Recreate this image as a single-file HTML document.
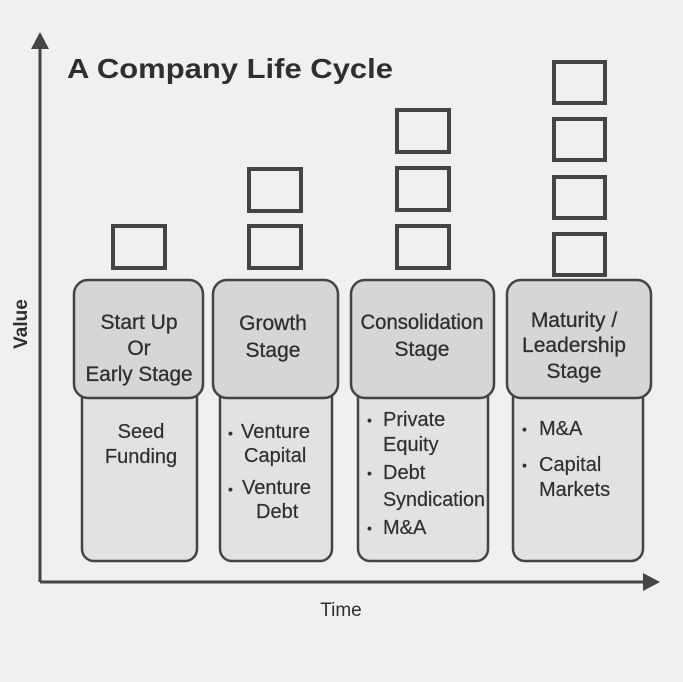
<!DOCTYPE html>
<html><head><meta charset="utf-8"><style>
html,body{margin:0;padding:0;background:#f1f0ee;}
svg{display:block;}
text{font-family:"Liberation Sans",sans-serif;fill:#2f2f2f;}
</style></head><body>
<svg width="683" height="682" viewBox="0 0 683 682" xmlns="http://www.w3.org/2000/svg">
<rect width="683" height="682" fill="#f1f0ee"/>
<line x1="40" y1="582" x2="40" y2="46" stroke="#444" stroke-width="3"/>
<polygon points="40,32 31,49 49,49" fill="#444"/>
<line x1="40" y1="582" x2="645" y2="582" stroke="#444" stroke-width="3"/>
<polygon points="660,582 643,573 643,591" fill="#444"/>
<text x="67" y="78" font-size="28" font-weight="bold" fill="#3a3a3a" textLength="326" lengthAdjust="spacingAndGlyphs">A Company Life Cycle</text>
<text x="341" y="616" font-size="19" text-anchor="middle">Time</text>
<text transform="translate(27,324) rotate(-90)" font-size="19" font-weight="bold" text-anchor="middle">Value</text>
<g fill="none" stroke="#444" stroke-width="4">
<rect x="113" y="226" width="52" height="42"/>
<rect x="249" y="169" width="52" height="42"/>
<rect x="249" y="226" width="52" height="42"/>
<rect x="397" y="110" width="52" height="42"/>
<rect x="397" y="168" width="52" height="42"/>
<rect x="397" y="226" width="52" height="42"/>
<rect x="554" y="62" width="51" height="41"/>
<rect x="554" y="119" width="51" height="41"/>
<rect x="554" y="177" width="51" height="41"/>
<rect x="554" y="234" width="51" height="41"/>
</g>
<g stroke="#444" stroke-width="2.5">
<rect x="82" y="380" width="115" height="181" rx="12" fill="#e3e2e0"/>
<rect x="74" y="280" width="129" height="118" rx="14" fill="#d8d6d4"/>
<rect x="220" y="380" width="112" height="181" rx="12" fill="#e3e2e0"/>
<rect x="213" y="280" width="125" height="118" rx="14" fill="#d8d6d4"/>
<rect x="358" y="380" width="130" height="181" rx="12" fill="#e3e2e0"/>
<rect x="351" y="280" width="143" height="118" rx="14" fill="#d8d6d4"/>
<rect x="513" y="380" width="130" height="181" rx="12" fill="#e3e2e0"/>
<rect x="507" y="280" width="144" height="118" rx="14" fill="#d8d6d4"/>
</g>
<g font-size="21" text-anchor="middle" stroke="#2f2f2f" stroke-width="0.3">
<text x="139" y="329">Start Up</text><text x="139" y="355">Or</text><text x="139" y="381" textLength="107" lengthAdjust="spacingAndGlyphs">Early Stage</text>
<text x="273" y="330">Growth</text><text x="273" y="357">Stage</text>
<text x="422" y="329" textLength="123" lengthAdjust="spacingAndGlyphs">Consolidation</text><text x="422" y="356">Stage</text>
<text x="574" y="327">Maturity /</text><text x="574" y="352">Leadership</text><text x="574" y="378">Stage</text>
</g>
<g font-size="20" text-anchor="middle" stroke="#2f2f2f" stroke-width="0.2">
<text x="141" y="438">Seed</text><text x="141" y="463">Funding</text>
</g>
<g font-size="20" stroke="#2f2f2f" stroke-width="0.2">
<text x="228" y="438" font-size="14">•</text><text x="241" y="438">Venture</text><text x="244" y="462">Capital</text>
<text x="228" y="494" font-size="14">•</text><text x="242" y="494">Venture</text><text x="256" y="518">Debt</text>
<text x="367" y="425" font-size="14">•</text><text x="383" y="426">Private</text><text x="383" y="451">Equity</text>
<text x="367" y="478" font-size="14">•</text><text x="383" y="479">Debt</text><text x="383" y="506" textLength="102" lengthAdjust="spacingAndGlyphs">Syndication</text>
<text x="367" y="533" font-size="14">•</text><text x="383" y="534">M&amp;A</text>
<text x="522" y="434" font-size="14">•</text><text x="539" y="435">M&amp;A</text>
<text x="522" y="470" font-size="14">•</text><text x="539" y="471">Capital</text><text x="539" y="496">Markets</text>
</g>
</svg>
</body></html>
